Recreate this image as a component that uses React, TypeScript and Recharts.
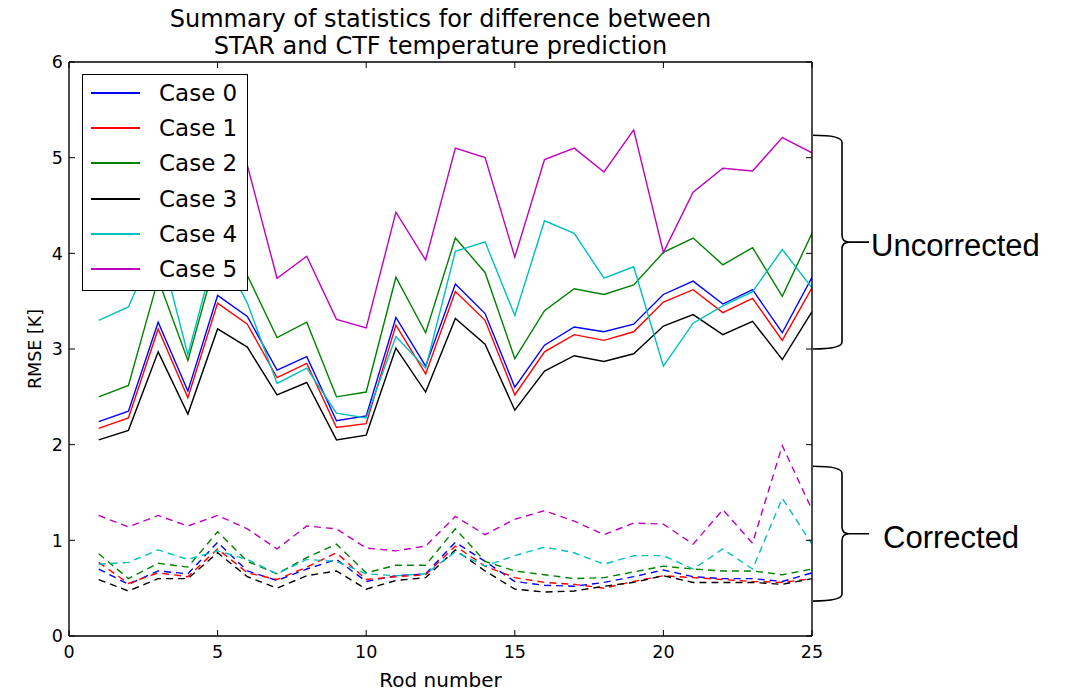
import { LineChart, Line, XAxis, YAxis, Legend, ReferenceArea, Label } from "recharts";

// rod numbers along the x axis
const rods = [1, 2, 3, 4, 5, 6, 7, 8, 9, 10, 11, 12, 13, 14, 15, 16, 17, 18, 19, 20, 21, 22, 23, 24, 25];
const xTicks = [0, 5, 10, 15, 20, 25];
const yTicks = [0, 1, 2, 3, 4, 5, 6];

const caseNames = ["Case 0", "Case 1", "Case 2", "Case 3", "Case 4", "Case 5"];
const caseColors = ["#0000ff", "#ff0000", "#008000", "#000000", "#00bfbf", "#bf00bf"];

// uncorrected RMSE (solid lines)
const raw0 = [2.24, 2.35, 3.28, 2.56, 3.56, 3.34, 2.78, 2.92, 2.25, 2.30, 3.33, 2.82, 3.68, 3.37, 2.60, 3.04, 3.23, 3.18, 3.26, 3.57, 3.71, 3.47, 3.62, 3.17, 3.75];
const raw1 = [2.17, 2.28, 3.21, 2.49, 3.48, 3.26, 2.70, 2.85, 2.18, 2.22, 3.25, 2.74, 3.60, 3.30, 2.52, 2.97, 3.15, 3.09, 3.18, 3.49, 3.62, 3.38, 3.53, 3.09, 3.64];
const raw2 = [2.50, 2.62, 3.73, 2.88, 4.00, 3.77, 3.12, 3.28, 2.50, 2.55, 3.75, 3.17, 4.16, 3.80, 2.90, 3.40, 3.63, 3.57, 3.67, 4.01, 4.16, 3.88, 4.06, 3.55, 4.21];
const raw3 = [2.05, 2.15, 2.97, 2.32, 3.21, 3.02, 2.52, 2.65, 2.05, 2.10, 3.01, 2.55, 3.32, 3.05, 2.36, 2.77, 2.93, 2.87, 2.95, 3.24, 3.36, 3.15, 3.29, 2.89, 3.39];
const raw4 = [3.30, 3.44, 4.15, 2.94, 4.10, 3.48, 2.64, 2.80, 2.33, 2.28, 3.13, 2.80, 4.02, 4.12, 3.35, 4.34, 4.21, 3.74, 3.86, 2.82, 3.27, 3.45, 3.60, 4.04, 3.64];
const raw5 = [4.70, 4.80, 5.30, 4.60, 5.40, 4.92, 3.74, 3.97, 3.31, 3.22, 4.43, 3.93, 5.10, 5.00, 3.96, 4.98, 5.10, 4.85, 5.29, 4.01, 4.64, 4.89, 4.86, 5.21, 5.05];

// corrected RMSE (dashed lines)
const cor0 = [0.70, 0.54, 0.68, 0.65, 0.98, 0.68, 0.58, 0.70, 0.80, 0.57, 0.63, 0.65, 0.98, 0.78, 0.57, 0.53, 0.52, 0.56, 0.62, 0.69, 0.62, 0.60, 0.60, 0.57, 0.66];
const cor1 = [0.77, 0.55, 0.66, 0.62, 0.91, 0.66, 0.59, 0.72, 0.87, 0.59, 0.62, 0.64, 0.94, 0.73, 0.61, 0.56, 0.54, 0.50, 0.57, 0.63, 0.61, 0.59, 0.57, 0.56, 0.60];
const cor2 = [0.86, 0.60, 0.76, 0.72, 1.09, 0.78, 0.65, 0.82, 0.96, 0.66, 0.74, 0.74, 1.12, 0.78, 0.68, 0.64, 0.60, 0.61, 0.67, 0.73, 0.70, 0.68, 0.68, 0.64, 0.70];
const cor3 = [0.59, 0.47, 0.60, 0.60, 0.87, 0.62, 0.50, 0.63, 0.68, 0.49, 0.58, 0.61, 0.90, 0.68, 0.49, 0.46, 0.47, 0.52, 0.56, 0.63, 0.56, 0.56, 0.56, 0.54, 0.60];
const cor4 = [0.75, 0.77, 0.90, 0.80, 0.89, 0.80, 0.65, 0.80, 0.78, 0.65, 0.63, 0.65, 0.88, 0.73, 0.84, 0.93, 0.87, 0.75, 0.84, 0.84, 0.70, 0.91, 0.70, 1.44, 0.96];
const cor5 = [1.26, 1.14, 1.26, 1.15, 1.26, 1.12, 0.91, 1.15, 1.12, 0.92, 0.89, 0.94, 1.25, 1.06, 1.22, 1.31, 1.20, 1.06, 1.18, 1.17, 0.96, 1.32, 0.97, 1.99, 1.32];

const rawSeries = [raw0, raw1, raw2, raw3, raw4, raw5];
const corSeries = [cor0, cor1, cor2, cor3, cor4, cor5];

const data = rods.map((rod, i) => {
  const row: Record<string, number> = { rod };
  rawSeries.forEach((s, k) => (row["raw" + k] = s[i]));
  corSeries.forEach((s, k) => (row["cor" + k] = s[i]));
  return row;
});

const font = "'DejaVu Sans', sans-serif";
const tickStyle = { fill: "#000", fontSize: 17.5, fontFamily: font };
const frameLine = { stroke: "#000", strokeWidth: 1.4 };
const tickLine = { stroke: "#000", strokeWidth: 1 };

function LegendBox() {
  return (
    <div
      style={{
        position: "relative",
        width: 166,
        height: 217,
        boxSizing: "border-box",
        border: "1.5px solid #000",
        background: "#fff",
      }}
    >
      {caseNames.map((name, i) => {
        const cy = Math.round(18 + i * 35.2);
        return (
          <div key={name}>
            <div style={{ position: "absolute", left: 8, top: cy - 1, width: 49, height: 2, background: caseColors[i] }} />
            <span
              style={{
                position: "absolute",
                left: 76,
                top: cy - 13,
                fontFamily: font,
                fontSize: 23,
                lineHeight: "26px",
                color: "#000",
                whiteSpace: "nowrap",
              }}
            >
              {name}
            </span>
          </div>
        );
      })}
    </div>
  );
}

// curly brace drawn right of the plot, spanning the reference area's y range
function Brace(props: any, text: string, textGap: number) {
  const { x, y, width, height } = props;
  const x0 = x + width + 1;
  const sx = x0 + 29;
  const tip = x0 + 56;
  const top = y;
  const bot = y + height;
  const mid = y + height / 2;
  const r = 7;
  const d =
    `M ${x0} ${top} Q ${sx} ${top} ${sx} ${top + r} L ${sx} ${mid - r} Q ${sx} ${mid} ${sx + r} ${mid} L ${tip} ${mid} ` +
    `M ${sx + r} ${mid} Q ${sx} ${mid} ${sx} ${mid + r} L ${sx} ${bot - r} Q ${sx} ${bot} ${x0} ${bot}`;
  return (
    <g>
      <path d={d} fill="none" stroke="#000" strokeWidth={1.6} />
      <text
        x={tip + textGap}
        y={mid + 6}
        dominantBaseline="middle"
        fontFamily="'Liberation Sans', Arial, sans-serif"
        fontSize={31}
        fill="#000"
      >
        {text}
      </text>
    </g>
  );
}

export default function App() {
  return (
    <div style={{ position: "absolute", left: 0, top: 0, width: 1069, height: 691, background: "#fff" }}>
      <div
        style={{
          position: "absolute",
          left: 69,
          width: 743,
          top: 6,
          textAlign: "center",
          fontFamily: font,
          fontSize: 24,
          lineHeight: "27px",
          color: "#000",
          zIndex: 2,
          whiteSpace: "nowrap",
        }}
      >
        Summary of statistics for difference between
        <br />
        STAR and CTF temperature prediction
      </div>
      <LineChart width={1069} height={691} data={data} margin={{ top: 61, right: 256, bottom: 0, left: 0 }}>
        <XAxis
          type="number"
          dataKey="rod"
          domain={[0, 25]}
          ticks={xTicks}
          allowDataOverflow
          height={55}
          tickSize={-6}
          tickMargin={16}
          tick={tickStyle}
          axisLine={frameLine}
          tickLine={tickLine}
        >
          <Label value="Rod number" position="insideBottom" offset={4} style={{ fill: "#000", fontSize: 20, fontFamily: font }} />
        </XAxis>
        <XAxis
          xAxisId="top"
          orientation="top"
          type="number"
          dataKey="rod"
          domain={[0, 25]}
          ticks={xTicks}
          allowDataOverflow
          height={1}
          tickSize={-6}
          tick={() => <g />}
          axisLine={frameLine}
          tickLine={tickLine}
        />
        <YAxis
          type="number"
          domain={[0, 6]}
          ticks={yTicks}
          allowDataOverflow
          width={69}
          tickSize={-6}
          tickMargin={12}
          tick={tickStyle}
          axisLine={frameLine}
          tickLine={tickLine}
        >
          <Label value="RMSE [K]" angle={-90} position="center" style={{ fill: "#000", fontSize: 17.5, fontFamily: font }} />
        </YAxis>
        <YAxis
          yAxisId="right"
          orientation="right"
          type="number"
          dataKey="raw0"
          domain={[0, 6]}
          ticks={yTicks}
          allowDataOverflow
          width={1}
          tickSize={-6}
          tick={() => <g />}
          axisLine={frameLine}
          tickLine={tickLine}
        />
        {corSeries.map((_, k) => (
          <Line
            key={"cor" + k}
            type="linear"
            dataKey={"cor" + k}
            stroke={caseColors[k]}
            strokeWidth={1.4}
            strokeDasharray="7 5"
            dot={false}
            legendType="none"
            isAnimationActive={false}
          />
        ))}
        {rawSeries.map((_, k) => (
          <Line
            key={"raw" + k}
            type="linear"
            dataKey={"raw" + k}
            name={caseNames[k]}
            stroke={caseColors[k]}
            strokeWidth={1.4}
            dot={false}
            isAnimationActive={false}
          />
        ))}
        <ReferenceArea y1={3.0} y2={5.235} ifOverflow="visible" shape={(p: any) => Brace(p, "Uncorrected", 2)} />
        <ReferenceArea y1={0.365} y2={1.774} ifOverflow="visible" shape={(p: any) => Brace(p, "Corrected", 14)} />
        <Legend
          layout="horizontal"
          verticalAlign="middle"
          align="center"
          content={() => <LegendBox />}
          wrapperStyle={{ left: 82, top: 74, width: 166, height: 217 }}
        />
      </LineChart>
    </div>
  );
}
